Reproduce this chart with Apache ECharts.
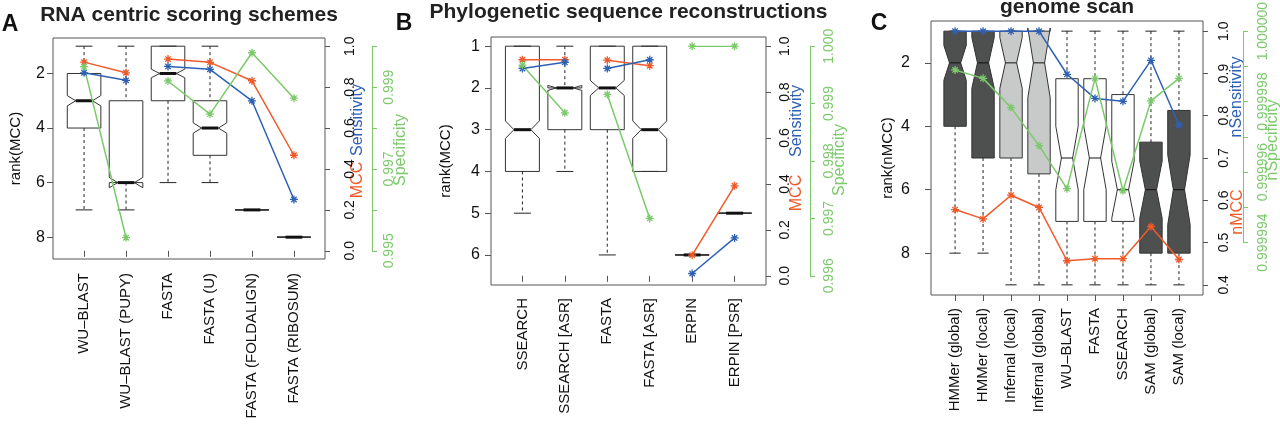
<!DOCTYPE html>
<html><head><meta charset="utf-8">
<script src="https://cdn.jsdelivr.net/npm/echarts@6/dist/echarts.min.js"></script>
<style>html,body{margin:0;padding:0;background:#fff}#c{width:1280px;height:425px}</style>
</head><body><div id="c"></div>
<script>
// ================= DATA =================
// Panel A: RNA centric scoring schemes
const catsA = ['WU–BLAST', 'WU–BLAST (PUPY)', 'FASTA', 'FASTA (U)', 'FASTA (FOLDALIGN)', 'FASTA (RIBOSUM)'];
// box stats in rank units: [upper whisker, lower hinge, median, upper hinge, lower whisker]
const boxA = [[1, 2, 3, 4, 7], [1, 3, 6, 6, 7], [1, 1, 2, 3, 6], [1, 3, 4, 5, 6], [7, 7, 7, 7, 7], [8, 8, 8, 8, 8]];
const notchA = [0.19, 0.19, 0.16, 0.19, 0, 0];
const mccA = [0.922, 0.870, 0.937, 0.921, 0.831, 0.467];
const sensA = [0.870, 0.833, 0.901, 0.887, 0.733, 0.251];
const specA = [0.9995, 0.99532, 0.99915, 0.99834, 0.99984, 0.99873];
const lineGroupA = [0, 0, 1, 1, 1, 1];
const rankTicksA = [2, 4, 6, 8];
const rightTicksA = [0, 0.2, 0.4, 0.6, 0.8, 1.0];
const specTicksA = [0.995, 0.996, 0.997, 0.998, 0.999, 1.000];
const specLabelsA = [0.995, 0.997, 0.999];

// Panel B: Phylogenetic sequence reconstructions
const catsB = ['SSEARCH', 'SSEARCH [ASR]', 'FASTA', 'FASTA [ASR]', 'ERPIN', 'ERPIN [PSR]'];
const boxB = [[1, 1, 3, 4, 5], [1, 2, 2, 3, 4], [1, 1, 2, 3, 6], [1, 1, 3, 4, 4], [6, 6, 6, 6, 6], [5, 5, 5, 5, 5]];
const notchB = [0.21, 0.06, 0.18, 0.21, 0, 0];
const mccB = [0.941, 0.941, 0.939, 0.915, 0.090, 0.392];
const sensB = [0.903, 0.930, 0.903, 0.941, 0.010, 0.165];
const specB = [0.99967, 0.99884, 0.99916, 0.99700, 1.0, 1.0];
const lineGroupB = [0, 0, 1, 1, 2, 2];
const rankTicksB = [1, 2, 3, 4, 5, 6];
const rightTicksB = [0, 0.2, 0.4, 0.6, 0.8, 1.0];
const specTicksB = [0.996, 0.997, 0.998, 0.999, 1.000];
const specLabelsB = [0.996, 0.997, 0.998, 0.999, 1.000];

// Panel C: genome scan
const catsC = ['HMMer (global)', 'HMMer (local)', 'Infernal (local)', 'Infernal (global)', 'WU–BLAST', 'FASTA', 'SSEARCH', 'SAM (global)', 'SAM (local)'];
const boxC = [[1, 1, 2, 4, 8], [1, 1, 2, 5, 8], [1, 1, 2, 5, 9], [1, 1, 2, 5.5, 9], [1, 2.5, 5, 7, 9], [1, 2.5, 5, 7, 9], [1, 3, 6, 7, 9], [1, 4.5, 6, 8, 9], [1, 3.5, 6, 8, 9]];
const notchC = [0.55, 0.8, 0.8, 1.1, 1.0, 1.0, 0.9, 0.9, 1.1];
const groupC = ['dark', 'dark', 'light', 'light', 'white', 'white', 'white', 'dark', 'dark'];
const nMccC = [0.578, 0.556, 0.612, 0.583, 0.457, 0.462, 0.462, 0.538, 0.460];
const nSensC = [1.0, 1.0, 1.0, 1.0, 0.898, 0.841, 0.834, 0.931, 0.778];
const nSpecC = [0.9999989, 0.99999866, 0.99999783, 0.99999675, 0.99999553, 0.99999866, 0.99999547, 0.99999802, 0.99999866];
const lineGroupC = [0, 0, 0, 0, 0, 0, 0, 0, 0];
const rankTicksC = [2, 4, 6, 8];
const rightTicksC = [0.4, 0.5, 0.6, 0.7, 0.8, 0.9, 1.0];
const specTicksC = [0.999994, 0.999995, 0.999996, 0.999997, 0.999998, 0.999999, 1.000000];
const specLabelsC = [0.999994, 0.999996, 0.999998, 1.000000];

// ================= STYLE / LAYOUT =================
const FONT = '"Liberation Sans", Arial, Helvetica, sans-serif';
const AX = '#555', TXT = '#111';
const RED = '#ef5a2b', BLUE = '#2e60b4', GREEN = '#7cc96c';
const FILLS = { dark: '#4e4f4f', light: '#c8caca', white: '#ffffff', none: 'rgba(0,0,0,0)' };
const STAR = 'path://M5 0L5 10M0 5L10 5M1.6 1.6L8.4 8.4M1.6 8.4L8.4 1.6';

const panels = [
  { cats: catsA, box: boxA, notch: notchA, groups: null, red: mccA, blue: sensA, green: specA, lineGroup: lineGroupA,
    frame: { left: 53, top: 38, width: 272, height: 221 },
    xRange: [0.26, 6.74], rankRange: [0.7, 8.8], rankTicks: rankTicksA, rankName: 'rank(MCC)', rankMargin: 8, rankGap: 30,
    rightRange: [-0.04, 1.04], rightTicks: rightTicksA, rightDigits: 1, rightMargin: 18,
    specRange: [0.995, 1.0], specAnchor: [0, 1], specTicks: specTicksA, specLabels: specLabelsA, specDigits: 3,
    specOffset: 47, specMargin: 10, medWidth: 3, catMargin: 14 },
  { cats: catsB, box: boxB, notch: notchB, groups: null, red: mccB, blue: sensB, green: specB, lineGroup: lineGroupB,
    frame: { left: 491, top: 37, width: 275, height: 248 },
    xRange: [0.26, 6.74], rankRange: [0.78, 6.72], rankTicks: rankTicksB, rankName: 'rank(MCC)', rankMargin: 11, rankGap: 38,
    rightRange: [-0.04, 1.04], rightTicks: rightTicksB, rightDigits: 1, rightMargin: 12,
    specRange: [0.996, 1.0], specAnchor: [0, 1], specTicks: specTicksB, specLabels: specLabelsB, specDigits: 3,
    specOffset: 44, specMargin: 12, medWidth: 3, catMargin: 13 },
  { cats: catsC, box: boxC, notch: notchC, groups: groupC, red: nMccC, blue: nSensC, green: nSpecC, lineGroup: lineGroupC,
    frame: { left: 931, top: 21, width: 272, height: 274 },
    xRange: [0.14, 9.86], rankRange: [0.68, 9.32], rankTicks: rankTicksC, rankName: 'rank(nMCC)', rankMargin: 21, rankGap: 36,
    rightRange: [0.376, 1.024], rightTicks: rightTicksC, rightDigits: 1, rightMargin: 14,
    specRange: [0.999994, 1.0], specAnchor: [0.5, 1], specTicks: specTicksC, specLabels: specLabelsC, specDigits: 6,
    specOffset: 40, specMargin: 13, medWidth: 1, catMargin: 13 }
];

const option = { animation: false, backgroundColor: '#fff', grid: [], xAxis: [], yAxis: [], series: [], graphic: [] };

function makeRender(p) {
  return function (params, api) {
    const i = params.dataIndex;
    const x = api.value(0), wt = api.value(1), q1 = api.value(2), md = api.value(3), q3 = api.value(4), wb = api.value(5), nh = api.value(6);
    const c = (dx, y) => api.coord([x + dx, y]);
    const hw = 0.4, sw = 0.2, nf = 0.5;
    const seg = (a, b, st) => ({ type: 'line', shape: { x1: a[0], y1: a[1], x2: b[0], y2: b[1] }, style: st });
    const dash = { stroke: '#222', lineWidth: 1, lineDash: [3, 3], fill: null };
    const solid = { stroke: '#222', lineWidth: 1, fill: null };
    const ch = [];
    if (wt < q1) ch.push(seg(c(0, wt), c(0, q1), dash));
    if (wb > q3) ch.push(seg(c(0, q3), c(0, wb), dash));
    ch.push(seg(c(-sw, wt), c(sw, wt), solid));
    ch.push(seg(c(-sw, wb), c(sw, wb), solid));
    const pts = [c(-hw, q1), c(hw, q1), c(hw, md - nh), c(hw * nf, md), c(hw, md + nh), c(hw, q3),
                 c(-hw, q3), c(-hw, md + nh), c(-hw * nf, md), c(-hw, md - nh)];
    const fill = p.groups ? FILLS[p.groups[i]] : FILLS.none;
    ch.push({ type: 'polygon', shape: { points: pts }, style: { fill: fill, stroke: '#333', lineWidth: 1 } });
    ch.push(seg(c(-hw * nf, md), c(hw * nf, md), { stroke: '#111', lineWidth: p.medWidth, fill: null }));
    return { type: 'group', children: ch };
  };
}

panels.forEach((p) => {
  const g = option.grid.length;
  const f = p.frame;
  option.grid.push({ left: f.left, top: f.top, width: f.width, height: f.height, show: true,
    borderColor: AX, borderWidth: 1, backgroundColor: 'transparent', containLabel: false, outerBoundsMode: 'none' });
  // green grid spans exactly the specificity tick range
  const rr = p.rightRange[1] - p.rightRange[0];
  const gTop = f.top + f.height * (p.rightRange[1] - p.specAnchor[1]) / rr;
  const gBot = f.top + f.height * (p.rightRange[1] - p.specAnchor[0]) / rr;
  option.grid.push({ left: f.left, top: gTop, width: f.width, height: gBot - gTop, show: false, containLabel: false, outerBoundsMode: 'none' });

  const xi = option.xAxis.length;
  const ticksX = p.cats.map((_, i) => i + 1);
  option.xAxis.push({ type: 'value', gridIndex: g, min: p.xRange[0], max: p.xRange[1],
    axisLine: { show: false }, splitLine: { show: false },
    axisTick: { show: true, customValues: ticksX, length: 6, lineStyle: { color: AX } },
    axisLabel: { show: true, customValues: ticksX, rotate: 90, margin: p.catMargin, color: TXT, fontSize: 15, fontFamily: FONT,
      formatter: (v) => p.cats[Math.round(v) - 1] } });
  option.xAxis.push({ type: 'value', gridIndex: g + 1, min: p.xRange[0], max: p.xRange[1], show: false });

  const yi = option.yAxis.length;
  option.yAxis.push({ type: 'value', gridIndex: g, inverse: true, min: p.rankRange[0], max: p.rankRange[1], position: 'left',
    axisLine: { show: false }, splitLine: { show: false },
    axisTick: { show: true, customValues: p.rankTicks, length: 6, lineStyle: { color: AX } },
    axisLabel: { customValues: p.rankTicks, margin: p.rankMargin, color: TXT, fontSize: 16, fontFamily: FONT },
    name: p.rankName, nameLocation: 'middle', nameGap: p.rankGap, nameTextStyle: { fontSize: 15, color: TXT, fontFamily: FONT } });
  option.yAxis.push({ type: 'value', gridIndex: g, min: p.rightRange[0], max: p.rightRange[1], position: 'right',
    axisLine: { show: false }, splitLine: { show: false },
    axisTick: { show: true, customValues: p.rightTicks, length: 5, lineStyle: { color: AX } },
    axisLabel: { customValues: p.rightTicks, rotate: 90, margin: p.rightMargin, color: TXT, fontSize: 14, fontFamily: FONT,
      formatter: (v) => v.toFixed(p.rightDigits) } });
  option.yAxis.push({ type: 'value', gridIndex: g + 1, min: p.specRange[0], max: p.specRange[1], position: 'right', offset: p.specOffset,
    axisLine: { show: true, lineStyle: { color: GREEN, width: 1 } }, splitLine: { show: false },
    axisTick: { show: true, customValues: p.specTicks, length: 5, lineStyle: { color: GREEN } },
    axisLabel: { customValues: p.specLabels, rotate: 90, margin: p.specMargin, color: GREEN, fontSize: 14, fontFamily: FONT,
      formatter: (v) => v.toFixed(p.specDigits) } });

  option.series.push({ type: 'custom', xAxisIndex: xi, yAxisIndex: yi, z: 2, silent: true,
    encode: { x: 0, y: [1, 2, 3, 4, 5] },
    data: p.box.map((s, i) => [i + 1, s[0], s[1], s[2], s[3], s[4], p.notch[i]]),
    renderItem: makeRender(p) });
  // one line series per connected group of categories
  const groupIds = Array.from(new Set(p.lineGroup));
  const mkLines = (vals, color, xa, ya) => groupIds.forEach((gid) => {
    option.series.push({ type: 'line', xAxisIndex: xa, yAxisIndex: ya, z: 3, silent: true,
      data: vals.map((v, i) => [i + 1, v]).filter((_, i) => p.lineGroup[i] === gid),
      symbol: STAR, symbolSize: 8,
      lineStyle: { color: color, width: 1.5 }, itemStyle: { color: color, borderColor: color, borderWidth: 1.3 } });
  });
  mkLines(p.red, RED, xi, yi + 1);
  mkLines(p.blue, BLUE, xi, yi + 1);
  mkLines(p.green, GREEN, xi + 1, yi + 2);
});

function txt(text, x, y, font, color, rot) {
  return { type: 'text', x: x, y: y, rotation: rot || 0, silent: true,
    style: { text: text, font: font, fill: color, align: 'center', verticalAlign: 'middle', textAlign: 'center', textVerticalAlign: 'middle' } };
}
const B21 = 'bold 21px ' + FONT, B23 = 'bold 23px ' + FONT, R16 = '16px ' + FONT;
const V = Math.PI / 2;
option.graphic = [
  txt('A', 10, 24.5, B23, '#111'), txt('B', 404, 24, B23, '#111'), txt('C', 879, 23.5, B23, '#111'),
  txt('RNA centric scoring schemes', 189, 15, B21, '#222'),
  txt('Phylogenetic sequence reconstructions', 628.5, 12.5, B21, '#222'),
  txt('genome scan', 1067, 7.5, B21, '#222'),
  txt('Sensitivity', 358, 120, R16, BLUE, V), txt('MCC', 358, 180, R16, RED, V), txt('Specificity', 401, 150, R16, GREEN, V),
  txt('Sensitivity', 797, 121, R16, BLUE, V), txt('MCC', 797, 193, R16, RED, V), txt('Specificity', 840, 160, R16, GREEN, V),
  txt('nSensitivity', 1237, 97, R16, BLUE, V), txt('nMCC', 1238, 212, R16, RED, V), txt('nSpecificity', 1273, 140, R16, GREEN, V)
];

const chart = echarts.init(document.getElementById('c'), null, { renderer: 'canvas' });
chart.setOption(option);
</script></body></html>
